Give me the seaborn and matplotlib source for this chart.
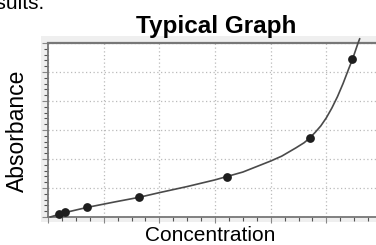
import matplotlib
matplotlib.use("Agg")
import matplotlib.pyplot as plt
import seaborn as sns
from matplotlib.patches import Rectangle
from matplotlib.ticker import MultipleLocator

# Data
point_conc = [0.20, 0.31, 0.70, 1.64, 3.22, 4.70, 5.47]
point_abs = [0.09, 0.17, 0.34, 0.68, 1.37, 2.72, 5.44]

curve_conc = [0.04, 0.30, 0.70, 1.20, 1.64, 2.00, 2.50, 3.00, 3.50, 4.00,
              4.20, 4.45, 4.60, 4.70, 4.80, 4.90, 5.00, 5.10, 5.20, 5.30,
              5.40, 5.47, 5.57, 5.60]
curve_abs = [0.00, 0.15, 0.33, 0.52, 0.68, 0.84, 1.05, 1.28, 1.55, 1.93,
             2.10, 2.38, 2.56, 2.72, 2.92, 3.14, 3.42, 3.76, 4.15, 4.60,
             5.10, 5.44, 6.00, 6.15]

title = "Typical Graph"
xlabel = "Concentration"
ylabel = "Absorbance"

sns.set_style("white")
plt.rcParams['font.family'] = ['Liberation Sans', 'DejaVu Sans']

W, H = 376, 245
fig = plt.figure(figsize=(W / 100, H / 100), dpi=100)
fig.patch.set_facecolor("white")

# light gray panel behind axes
bg = fig.add_axes([41 / W, 1 - 222 / H, 1.0, (222 - 36) / H])
bg.set_zorder(-1)
bg.add_patch(Rectangle((0, 0), 1, 1, transform=bg.transAxes,
                       facecolor="#efefef", edgecolor="none"))
bg.set_axis_off()

ax = fig.add_axes([48 / W, 1 - 217 / H, (382 - 48) / W, (217 - 43) / H])
ax.set_zorder(1)
ax.set_facecolor("white")

sns.lineplot(x=curve_conc, y=curve_abs, ax=ax, color="#4a4a4a", linewidth=1.2,
             estimator=None, sort=False, clip_on=False, zorder=3)
sns.scatterplot(x=point_conc, y=point_abs, ax=ax, color="#1e1e1e", s=40,
                edgecolor="#1e1e1e", linewidth=0, zorder=4, clip_on=False)

ax.set_xlim(0, 6)
ax.set_ylim(0, 6)
ax.xaxis.set_major_locator(MultipleLocator(1))
ax.xaxis.set_minor_locator(MultipleLocator(0.25))
ax.yaxis.set_major_locator(MultipleLocator(1))
ax.yaxis.set_minor_locator(MultipleLocator(0.2))
ax.set_xticklabels([])
ax.set_yticklabels([])
ax.tick_params(axis="both", which="major", direction="out", length=4,
               width=0.8, color="#888888", bottom=True, left=True)
ax.tick_params(axis="both", which="minor", direction="out", length=3,
               width=0.8, color="#555555", bottom=True, left=True)

ax.grid(True, which="major", linestyle=(0, (1, 2)), color="#bbbbbb", linewidth=0.9)
ax.set_axisbelow(True)

for side in ["top", "left", "bottom"]:
    ax.spines[side].set_visible(True)
    ax.spines[side].set_color("#777777")
ax.spines["top"].set_linewidth(1.6)
ax.spines["left"].set_linewidth(1.3)
ax.spines["bottom"].set_linewidth(1.3)
ax.spines["right"].set_visible(False)

ax.set_xlabel("")
ax.set_ylabel("")
fig.text(216 / W, 1 - 33 / H, title, ha="center", va="baseline",
         fontsize=17.5, fontweight="bold", color="black")
fig.text(210 / W, 1 - 241 / H, xlabel, ha="center", va="baseline",
         fontsize=15, color="black")
fig.text(17 / W, 1 - 131 / H, ylabel, ha="center", va="center",
         rotation=90, fontsize=16.5, color="black")
fig.text(45 / W, 1 - 9 / H, "results.", ha="right", va="baseline",
         fontsize=15, color="black")

fig.savefig("out.png", dpi=100)
